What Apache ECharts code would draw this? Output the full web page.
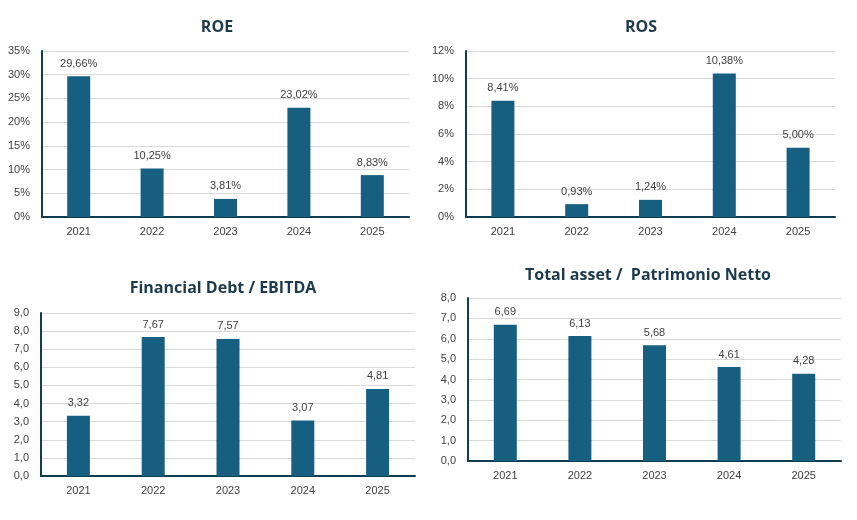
<!doctype html>
<html>
<head>
<meta charset="utf-8" />
<script src="https://cdn.jsdelivr.net/npm/echarts@6/dist/echarts.min.js"></script>
<style>
  html, body { margin: 0; padding: 0; background: #ffffff; }
  #chart { width: 857px; height: 520px; }
</style>
</head>
<body>
<div id="chart"></div>
<script>
const years = ["2021", "2022", "2023", "2024", "2025"];
const roe = [29.66, 10.25, 3.81, 23.02, 8.83];
const ros = [8.41, 0.93, 1.24, 10.38, 5.0];
const debtEbitda = [3.32, 7.67, 7.57, 3.07, 4.81];
const assetEquity = [6.69, 6.13, 5.68, 4.61, 4.28];

const BAR = "#165f81";
const AXIS = "#0f3d52";
const TEXT = "#404040";
const TITLE = "#1d3a4c";
const FONT = "'Liberation Sans', Arial, sans-serif";

const pct2 = (v) => v.toFixed(2).replace(".", ",") + "%";
const num2 = (v) => v.toFixed(2).replace(".", ",");
const num1 = (v) => v.toFixed(1).replace(".", ",");

const panels = [
  { title: "ROE", cx: 212, ty: 14, grid: { left: 42, top: 51, width: 367, height: 166 }, data: roe, max: 35, interval: 5, axisFmt: (v) => v + "%", labelFmt: pct2 },
  { title: "ROS", cx: 636, ty: 14, grid: { left: 466, top: 51, width: 369, height: 166 }, data: ros, max: 12, interval: 2, axisFmt: (v) => v + "%", labelFmt: pct2 },
  { title: "Financial Debt / EBITDA", cx: 218, ty: 275, grid: { left: 41, top: 313, width: 374, height: 163 }, data: debtEbitda, max: 9, interval: 1, axisFmt: num1, labelFmt: num2 },
  { title: "Total asset /  Patrimonio Netto", cx: 643, ty: 262, grid: { left: 468, top: 298, width: 373, height: 163 }, data: assetEquity, max: 8, interval: 1, axisFmt: num1, labelFmt: num2 },
];

const option = {
  animation: false,
  backgroundColor: "#ffffff",
  title: panels.map((p) => ({
    text: p.title,
    left: p.cx,
    top: p.ty,
    textAlign: "center",
    textStyle: { fontFamily: "'Open Sans', sans-serif", fontSize: 16, fontWeight: 700, color: TITLE },
  })),
  grid: panels.map((p) => ({ ...p.grid, containLabel: false })),
  xAxis: panels.map((p, i) => ({
    type: "category",
    gridIndex: i,
    data: years,
    axisLine: { lineStyle: { color: AXIS, width: 2 } },
    axisTick: { show: false },
    axisLabel: { fontFamily: FONT, fontSize: 11, color: TEXT, margin: 9 },
  })),
  yAxis: panels.map((p, i) => ({
    type: "value",
    gridIndex: i,
    min: 0,
    max: p.max,
    interval: p.interval,
    axisLine: { show: true, lineStyle: { color: AXIS, width: 2 } },
    axisTick: { show: false },
    axisLabel: { fontFamily: FONT, fontSize: 11, color: TEXT, margin: 12, formatter: p.axisFmt },
    splitLine: { lineStyle: { color: "#d9d9d9", width: 1 } },
  })),
  series: panels.map((p, i) => ({
    type: "bar",
    xAxisIndex: i,
    yAxisIndex: i,
    data: p.data,
    barWidth: 23,
    itemStyle: { color: BAR },
    label: {
      show: true,
      position: "top",
      distance: 7,
      fontFamily: FONT,
      fontSize: 11,
      color: TEXT,
      formatter: (d) => p.labelFmt(d.value),
    },
  })),
};

const chart = echarts.init(document.getElementById("chart"), null, { renderer: "canvas" });
chart.setOption(option);
</script>
</body>
</html>
